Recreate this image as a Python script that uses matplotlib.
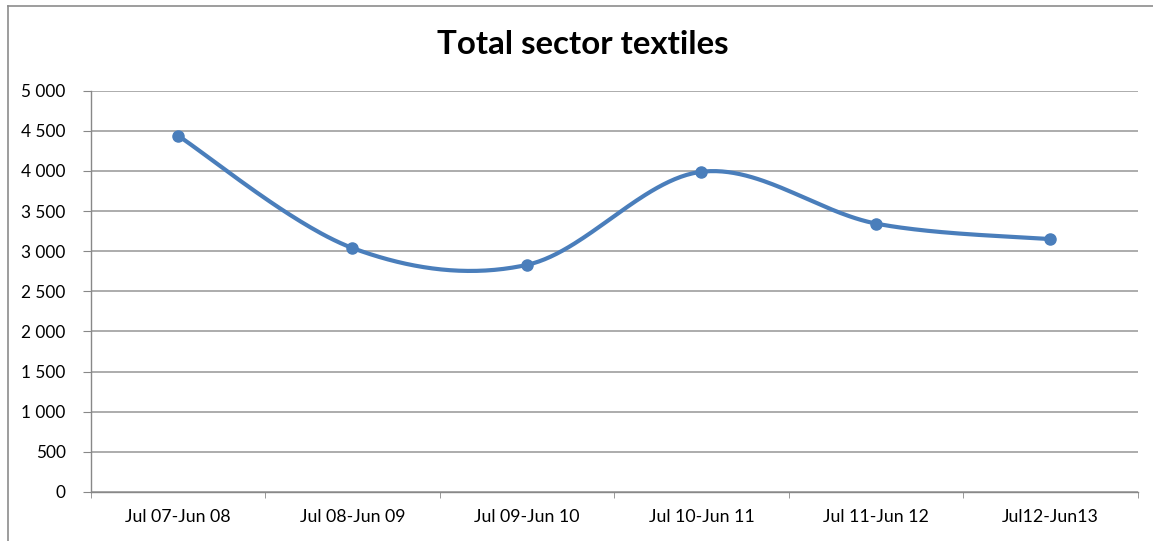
import numpy as np
import matplotlib.pyplot as plt
from matplotlib.lines import Line2D

'''Data'''

periods = ['Jul 07-Jun 08', 'Jul 08-Jun 09', 'Jul 09-Jun 10',
           'Jul 10-Jun 11', 'Jul 11-Jun 12', 'Jul12-Jun13']
totals = [4440, 3040, 2830, 3990, 3345, 3150]
yticks = [0, 500, 1000, 1500, 2000, 2500, 3000, 3500, 4000, 4500, 5000]
ytick_labels = ['0', '500', '1 000', '1 500', '2 000', '2 500',
                '3 000', '3 500', '4 000', '4 500', '5 000']

#Smoothed line through the points (Excel style Catmull-Rom / Bezier)
def smooth(x, y, n=60):
    px = np.concatenate(([x[0]], x, [x[-1]]))
    py = np.concatenate(([y[0]], y, [y[-1]]))
    xs, ys = [], []
    t = np.linspace(0, 1, n)
    for i in range(1, len(px) - 2):
        p0 = np.array([px[i], py[i]])
        p3 = np.array([px[i+1], py[i+1]])
        c1 = p0 + (np.array([px[i+1], py[i+1]]) - np.array([px[i-1], py[i-1]])) / 6
        c2 = p3 - (np.array([px[i+2], py[i+2]]) - np.array([px[i], py[i]])) / 6
        b = ((1-t)**3)[:, None]*p0 + (3*(1-t)**2*t)[:, None]*c1 \
            + (3*(1-t)*t**2)[:, None]*c2 + (t**3)[:, None]*p3
        xs.append(b[:, 0])
        ys.append(b[:, 1])
    return np.concatenate(xs), np.concatenate(ys)

x = np.arange(len(periods), dtype=float)
y = np.array(totals, dtype=float)
sx, sy = smooth(x, y)

plt.rcParams['font.family'] = ['Lato', 'DejaVu Sans']

fig = plt.figure(figsize=(11.53, 5.41), dpi=100)
ax = fig.add_axes([0.0787, 0.0906, 0.9080, 0.7417])

grid_c = '#a6a6a6'
for v in yticks:
    ax.axhline(v, color=grid_c, lw=1.3, zorder=1)

ax.plot(sx, sy, color='#4a7ebb', lw=3.0, solid_capstyle='round', zorder=3)
ax.plot(x, y, 'o', color='#4a7ebb', ms=8, zorder=4)

ax.set_xlim(-0.5, len(periods) - 0.5)
ax.set_ylim(0, 5000)
ax.set_yticks(yticks)
ax.set_yticklabels(ytick_labels)
ax.set_xticks(x)
ax.set_xticklabels(periods)
ax.set_xticks(np.arange(len(periods) + 1) - 0.5, minor=True)

for s in ['top', 'right']:
    ax.spines[s].set_visible(False)
for s in ['left', 'bottom']:
    ax.spines[s].set_color('#888888')
    ax.spines[s].set_linewidth(1.0)

ax.tick_params(axis='y', which='major', length=6, color='#888888',
               labelsize=12.4, pad=12)
ax.tick_params(axis='x', which='major', length=0, labelsize=12.8, pad=12)
ax.tick_params(axis='x', which='minor', length=4, color='#888888')

fig.text(0.505, 0.917, 'Total sector textiles', ha='center', va='center',
         fontsize=23.8, fontweight='bold')

#Chart frame
fig.add_artist(Line2D([8/1153, 1], [1-6/541, 1-6/541], color='#8c8c8c', lw=1.2))
fig.add_artist(Line2D([8/1153, 8/1153], [0, 1-6/541], color='#8c8c8c', lw=1.2))

plt.savefig('out.png', dpi=100)
